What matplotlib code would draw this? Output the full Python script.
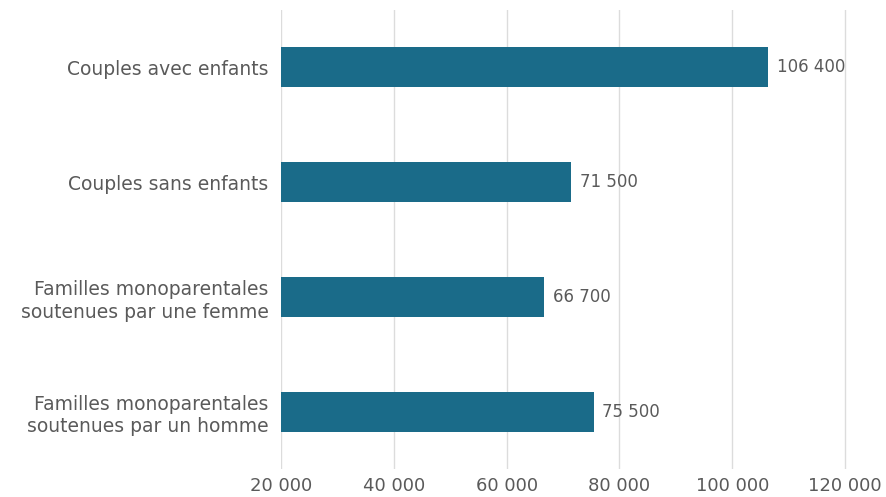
import numpy as np
import matplotlib.pyplot as plt

plt.rcParams['font.family'] = ['DejaVu Sans']

# data
categories = ["Couples avec enfants",
              "Couples sans enfants",
              "Familles monoparentales\nsoutenues par une femme",
              "Familles monoparentales\nsoutenues par un homme"]
values = [106400, 71500, 66700, 75500]
value_labels = ["106 400", "71 500", "66 700", "75 500"]
xticks = [20000, 40000, 60000, 80000, 100000, 120000]
xtick_labels = ["20 000", "40 000", "60 000", "80 000", "100 000", "120 000"]

bar_color = "#1a6b89"
text_color = "#5a5a5a"

fig = plt.figure(figsize=(8.86, 4.97), dpi=100)
ax = fig.add_axes([281/886, 1 - 469/497, (847-281)/886, (469-10)/497])

y = np.arange(len(categories))
base = 20000
ax.barh(y, np.array(values) - base, left=base, height=0.35, color=bar_color, zorder=3)

# value labels next to bars
for yi, v, lab in zip(y, values, value_labels):
    ax.text(v + 1500, yi, lab, va='center', ha='left', fontsize=12, color=text_color)

ax.set_xlim(20000, 120350)
ax.set_ylim(3.5, -0.5)
ax.set_xticks(xticks)
ax.set_xticklabels(xtick_labels, fontsize=13, color=text_color)
ax.set_yticks(y)
ax.set_yticklabels(categories, fontsize=13.5, color=text_color, linespacing=1.25)

ax.grid(axis='x', color='#dcdcdc', linewidth=1, zorder=0)
for s in ax.spines.values():
    s.set_visible(False)
ax.tick_params(axis='both', length=0)
ax.tick_params(axis='y', pad=9)
ax.tick_params(axis='x', pad=6)

fig.savefig("out.png", dpi=100)
